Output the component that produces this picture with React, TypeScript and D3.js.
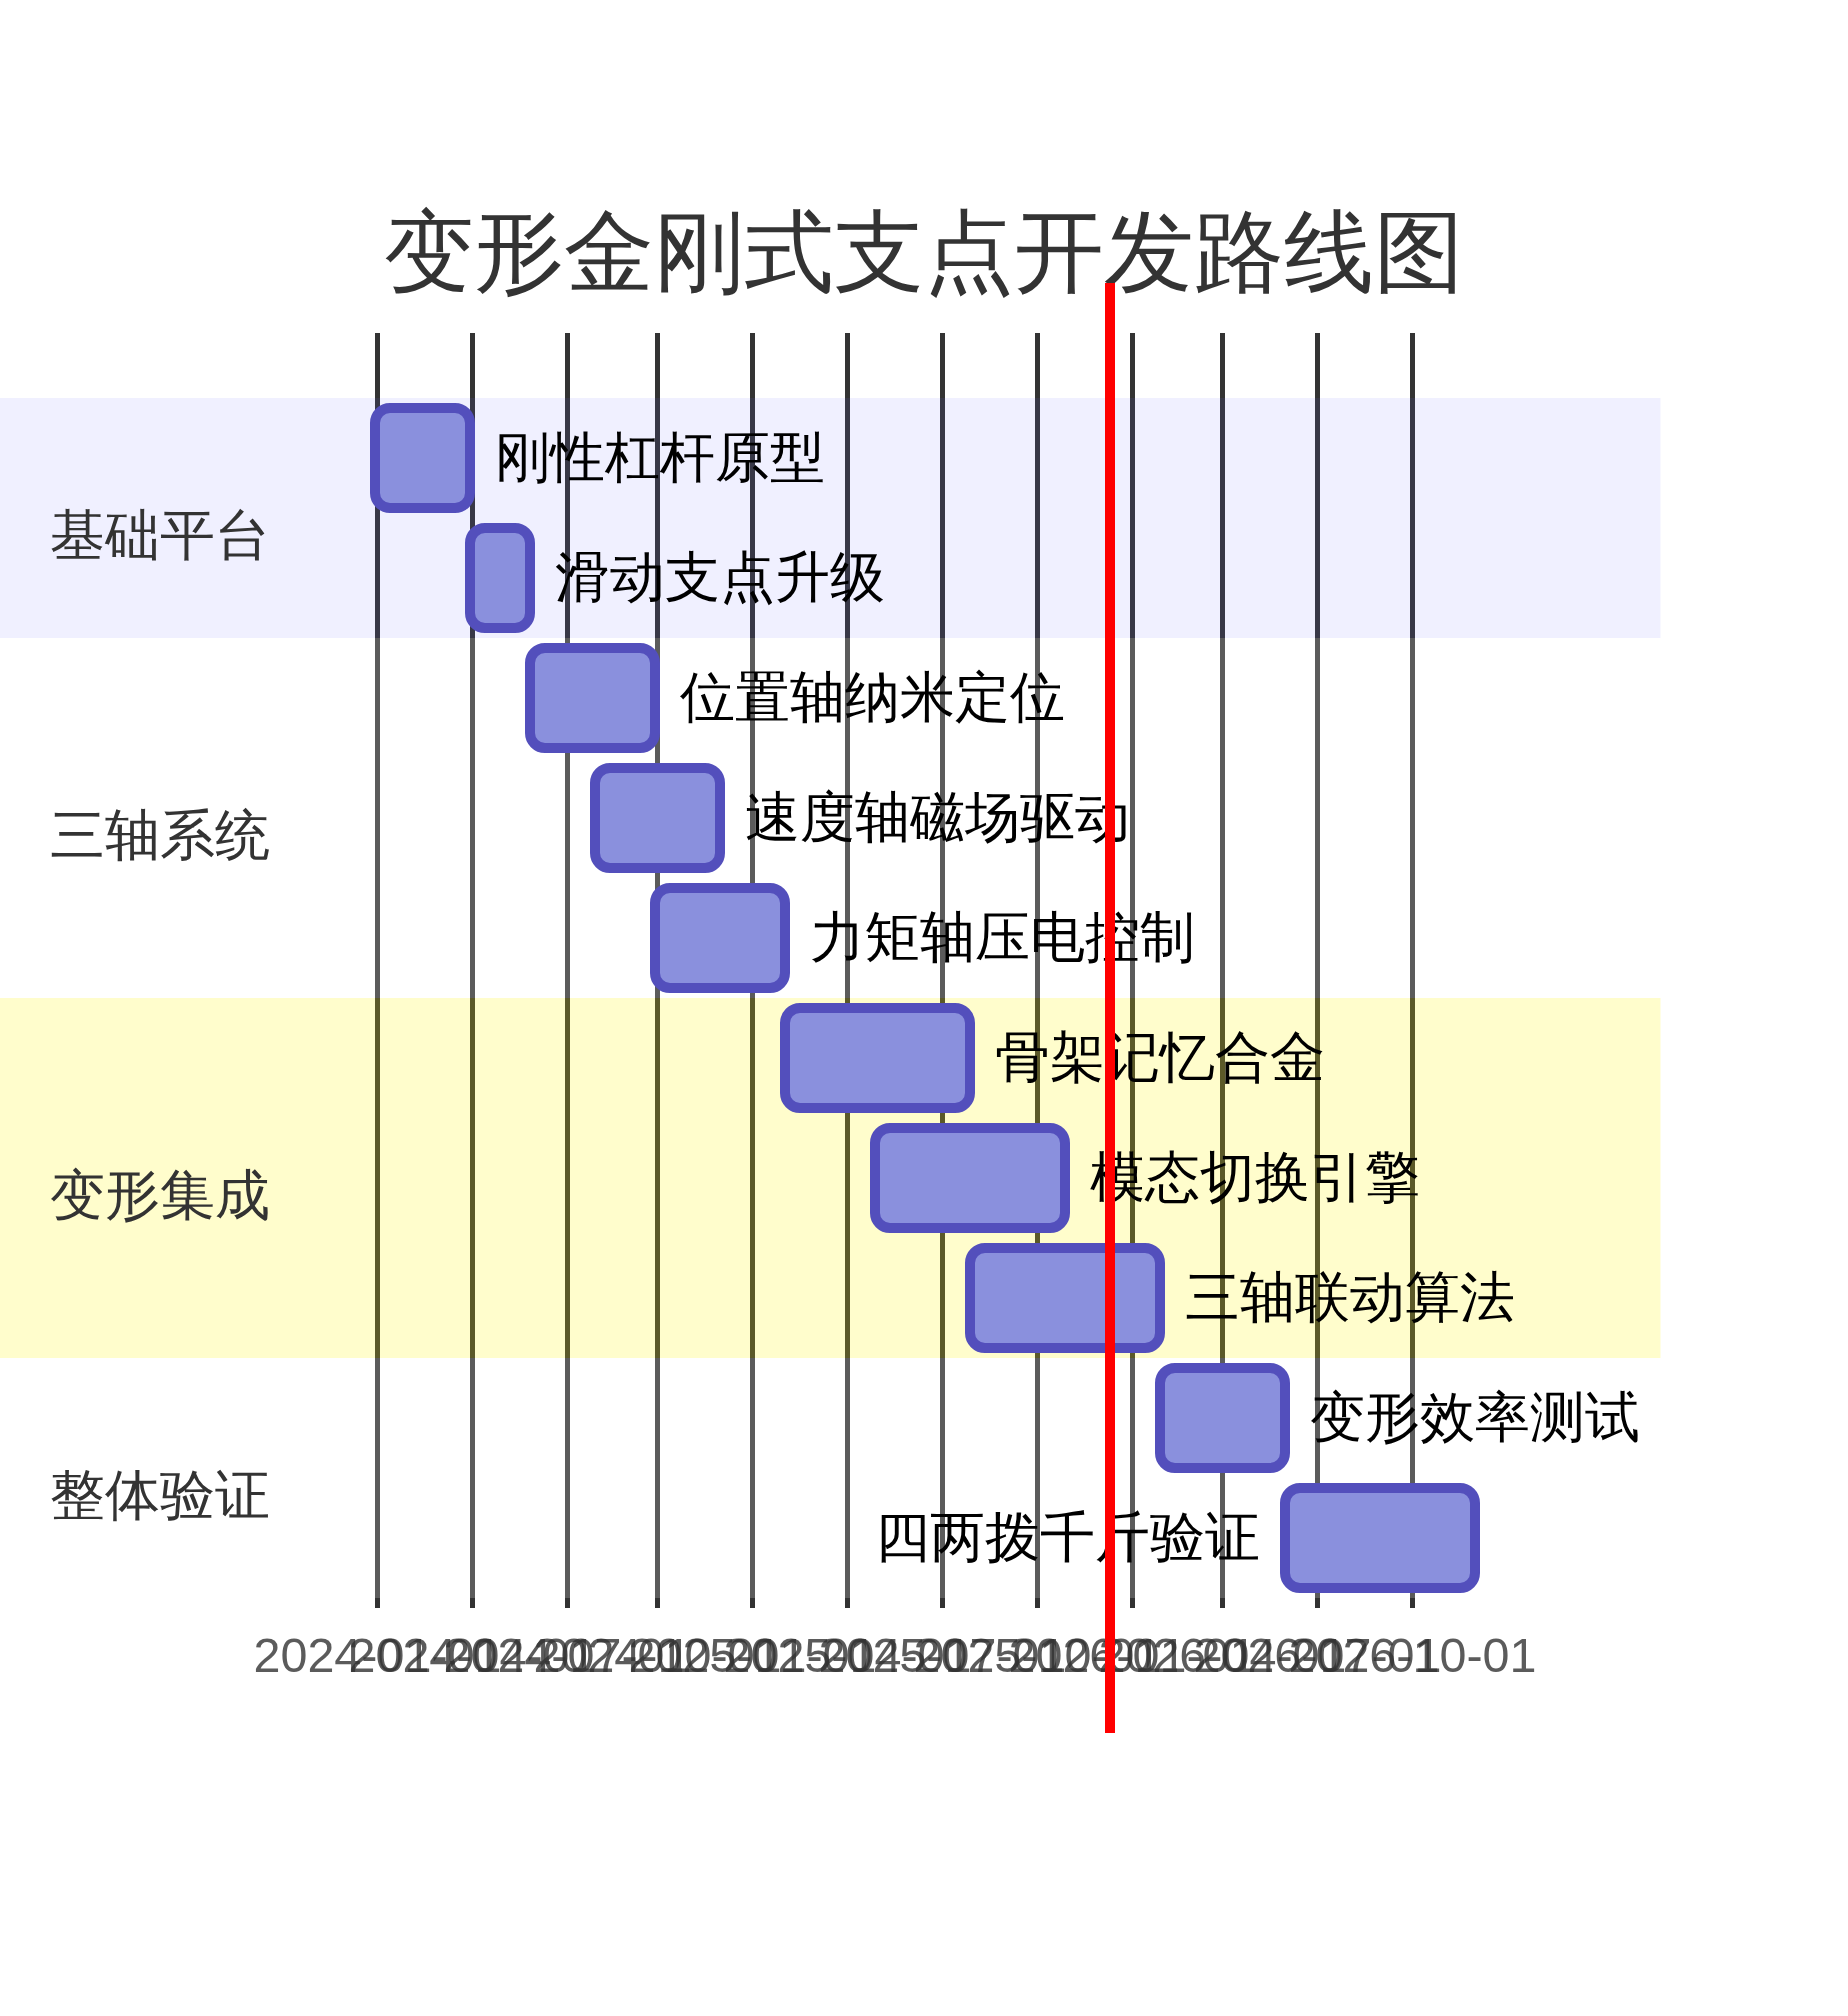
import React, { useEffect, useRef } from 'react'
import * as d3 from 'd3'

// chart content
const chartTitle = '变形金刚式支点开发路线图'
const sectionNames = ['基础平台', '三轴系统', '变形集成', '整体验证']
const taskNames = [
  '刚性杠杆原型', '滑动支点升级',
  '位置轴纳米定位', '速度轴磁场驱动', '力矩轴压电控制',
  '骨架记忆合金', '模态切换引擎', '三轴联动算法',
  '变形效率测试', '四两拨千斤验证',
]
const taskSection = [0, 0, 1, 1, 1, 2, 2, 2, 3, 3]
const taskStarts = [
  '2024-01-01', '2024-04-01',
  '2024-06-01', '2024-08-01', '2024-10-01',
  '2025-02-01', '2025-05-01', '2025-08-01',
  '2026-02-01', '2026-06-01',
]
const taskEnds = [
  '2024-04-01', '2024-06-01',
  '2024-10-01', '2024-12-01', '2025-02-01',
  '2025-08-01', '2025-11-01', '2026-02-01',
  '2026-06-01', '2026-12-01',
]
const todayDate = '2025-12-12'

// layout (gantt units, drawn at 5x)
const W = 369.6
const H = 340
const SCALE = 5
const leftPad = 75
const rightPad = 75
const topPad = 50
const barHeight = 20
const barGap = 4
const gap = barHeight + barGap
const gridStartPad = 35
const titleTop = 25
const fontSize = 11
const font = '"trebuchet ms", verdana, arial, sans-serif'

const sectionFill = ['rgba(102, 102, 255, 0.49)', 'white', '#fff400', 'white']

function App() {
  const gridRef = useRef<SVGGElement>(null)

  const parse = d3.timeParse('%Y-%m-%d')
  const starts = taskStarts.map(s => parse(s) as Date)
  const ends = taskEnds.map(s => parse(s) as Date)

  const x = d3.scaleTime()
    .domain([d3.min(starts) as Date, d3.max(ends) as Date])
    .rangeRound([0, W - leftPad - rightPad])

  useEffect(() => {
    const axis = d3.axisBottom(x)
      .tickSize(-H + topPad + gridStartPad)
      .tickFormat(d3.timeFormat('%Y-%m-%d') as any)

    const g = d3.select(gridRef.current)
    g.call(axis as any)
    g.attr('font-family', font)
    g.selectAll('text')
      .style('text-anchor', 'middle')
      .attr('fill', '#333')
      .attr('stroke', 'none')
      .attr('font-size', 9.7)
      .attr('dy', '1em')
    g.selectAll('.tick')
      .attr('opacity', 0.8)
      .attr('shape-rendering', 'crispEdges')
    g.select('.domain').attr('stroke-width', 0)
  }, [])

  // section label rows
  const counts = sectionNames.map((_, i) => taskSection.filter(s => s === i).length)
  let prev = 0
  const labelY = counts.map((c, i) => {
    if (i > 0) prev += counts[i - 1]
    return (c * gap) / 2 + prev * gap + topPad
  })

  const today = parse(todayDate) as Date

  return (
    <svg
      width={1848}
      height={2016}
      style={{ position: 'absolute', left: 0, top: 0 }}
    >
      <g transform={`translate(0, 158) scale(${SCALE})`}>
        <g ref={gridRef} transform={`translate(${leftPad}, ${H - 50})`} />

        <g>
          {taskNames.map((_, i) => (
            <rect
              key={i}
              x={0}
              y={i * gap + topPad - 2}
              width={W - rightPad / 2}
              height={gap}
              fill={sectionFill[taskSection[i] % 4]}
              opacity={0.2}
            />
          ))}
        </g>

        <g>
          {taskNames.map((name, i) => {
            const sx = x(starts[i])
            const ex = x(ends[i])
            const textW = name.length * fontSize
            let tx = ex + leftPad + 5
            let anchor = 'start'
            if (textW > ex - sx && ex + textW + 1.5 * leftPad > W) {
              tx = sx + leftPad - 5
              anchor = 'end'
            }
            return (
              <g key={name}>
                <rect
                  x={sx + leftPad}
                  y={i * gap + topPad}
                  width={ex - sx}
                  height={barHeight}
                  rx={3}
                  ry={3}
                  fill="#8a90dd"
                  stroke="#534fbc"
                  strokeWidth={2}
                />
                <text
                  x={tx}
                  y={i * gap + barHeight / 2 + (fontSize / 2 - 2) + topPad}
                  fontSize={fontSize}
                  fontFamily={font}
                  textAnchor={anchor}
                  fill="black"
                >
                  {name}
                </text>
              </g>
            )
          })}
        </g>

        <g>
          {sectionNames.map((name, i) => (
            <text
              key={name}
              x={10}
              y={labelY[i]}
              dy="0.12em"
              fontSize={fontSize}
              fontFamily={font}
              fill="#333"
              dominantBaseline="central"
            >
              {name}
            </text>
          ))}
        </g>

        <text
          x={W / 2}
          y={titleTop}
          textAnchor="middle"
          fontSize={18}
          fontFamily={font}
          fill="#333"
        >
          {chartTitle}
        </text>

        <line
          x1={x(today) + leftPad}
          x2={x(today) + leftPad}
          y1={titleTop}
          y2={H - titleTop}
          stroke="red"
          strokeWidth={2}
          fill="none"
        />
      </g>
    </svg>
  )
}

export default App
